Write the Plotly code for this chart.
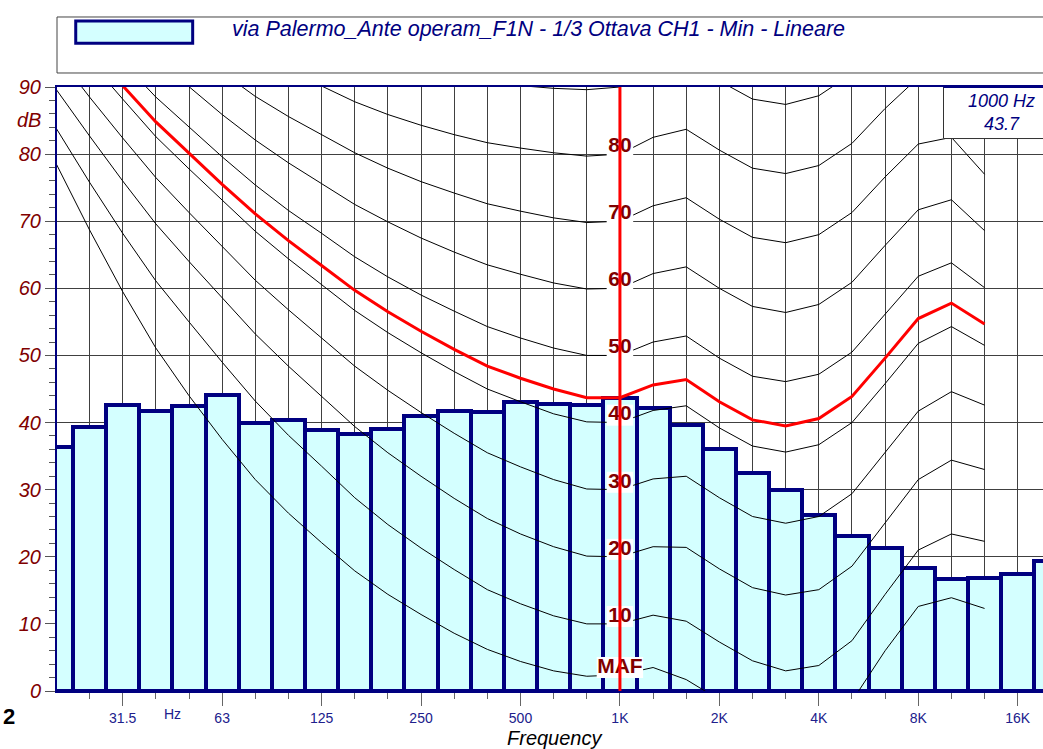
import plotly.graph_objects as go

# ---- data -------------------------------------------------------------
series_name = "via Palermo_Ante operam_F1N - 1/3 Ottava CH1 - Min - Lineare"

# 1/3-octave band centres (Hz)
bands = ["20", "25", "31.5", "40", "50", "63", "80", "100", "125", "160",
         "200", "250", "315", "400", "500", "630", "800", "1000", "1250", "1600",
         "2000", "2500", "3150", "4000", "5000", "6300", "8000", "10000", "12500",
         "16000", "20000"]

# measured minimum level per band (dB, linear weighting)
levels_db = [36.4, 39.4, 42.6, 41.7, 42.5, 44.1, 40.0, 40.4, 38.9, 38.3,
             39.0, 41.0, 41.7, 41.5, 43.1, 42.8, 42.6, 43.7, 42.1, 39.7,
             36.0, 32.5, 29.9, 26.2, 23.1, 21.3, 18.4, 16.7, 16.9, 17.5, 19.4]

# equal-loudness contours, 20 Hz .. 12.5 kHz (dB SPL)
maf = [78.5, 68.7, 59.5, 51.1, 44.0, 37.5, 31.5, 26.5, 22.1, 17.9, 14.4, 11.4, 8.6, 6.2,
       4.4, 3.0, 2.2, 2.4, 3.5, 1.7, -1.3, -4.2, -6.0, -5.4, -1.5, 6.0, 12.6, 13.9, 12.3]
phon10 = [83.8, 75.8, 68.2, 61.1, 55.0, 49.0, 43.2, 38.1, 33.5, 28.8, 24.8, 21.3, 18.1, 15.1,
          13.0, 11.2, 10.0, 10.0, 11.3, 10.4, 7.3, 4.5, 3.0, 3.8, 7.5, 14.4, 21.0, 23.4, 22.3]
phon20 = [89.6, 82.7, 76.0, 69.6, 64.0, 58.6, 53.2, 48.4, 43.9, 39.4, 35.5, 32.0, 28.7, 25.7,
          23.4, 21.5, 20.1, 20.0, 21.5, 21.4, 18.2, 15.4, 14.3, 15.1, 18.6, 25.0, 31.5, 34.4, 33.0]
phon30 = [94.9, 88.5, 82.4, 76.5, 71.3, 66.2, 61.2, 56.8, 52.6, 48.4, 44.8, 41.5, 38.4, 35.5,
          33.4, 31.5, 30.1, 30.0, 31.6, 32.0, 28.8, 26.0, 25.0, 26.0, 29.4, 35.5, 41.7, 44.6, 42.6]
phon40 = [99.9, 93.9, 88.2, 82.6, 77.8, 73.1, 68.5, 64.4, 60.6, 56.7, 53.4, 50.4, 47.6, 45.0,
          43.1, 41.3, 40.1, 40.0, 41.8, 42.5, 39.2, 36.5, 35.6, 36.7, 40.0, 45.8, 51.8, 54.3, 51.5]
phon50 = [104.7, 99.1, 93.7, 88.5, 84.0, 79.6, 75.4, 71.6, 68.2, 64.7, 61.7, 59.0, 56.6, 54.3,
          52.6, 51.1, 50.0, 50.0, 52.0, 52.9, 49.6, 46.9, 46.1, 47.2, 50.5, 56.1, 61.8, 63.8, 60.1]
phon60 = [109.5, 104.2, 99.1, 94.2, 90.0, 85.9, 82.1, 78.7, 75.6, 72.5, 69.9, 67.5, 65.4, 63.5,
          62.1, 60.8, 59.9, 60.0, 62.2, 63.2, 60.0, 57.3, 56.4, 57.6, 60.9, 66.4, 71.7, 73.2, 68.6]
phon70 = [114.3, 109.3, 104.4, 99.8, 95.9, 92.2, 88.6, 85.6, 82.9, 80.2, 77.9, 75.9, 74.2, 72.6,
          71.5, 70.5, 69.8, 70.0, 72.3, 73.5, 70.3, 67.6, 66.8, 68.0, 71.3, 76.6, 81.5, 82.5, 77.0]
phon80 = [119.0, 114.2, 109.7, 105.3, 101.7, 98.4, 95.2, 92.5, 90.1, 87.8, 85.9, 84.3, 82.9, 81.7,
          80.9, 80.2, 79.7, 80.0, 82.5, 83.7, 80.6, 77.9, 77.1, 78.3, 81.6, 86.8, 91.4, 91.7, 85.4]
phon90 = [123.7, 119.2, 114.9, 110.9, 107.6, 104.5, 101.7, 99.3, 97.3, 95.4, 93.9, 92.7, 91.6, 90.8,
          90.2, 89.8, 89.6, 90.0, 92.7, 94.0, 90.9, 88.2, 87.4, 88.7, 92.0, 97.0, 101.3, 101.0, 93.8]

contour_names = ["MAF", "10", "20", "30", "40", "50", "60", "70", "80", "90"]
contours = [maf, phon10, phon20, phon30, phon40, phon50, phon60, phon70, phon80, phon90]

# contour passing through the 1 kHz band level (43.7 phon)
ref_band = "1000"
ref_contour = [101.7, 95.9, 90.2, 84.8, 80.1, 75.5, 71.1, 67.1, 63.4, 59.7, 56.5, 53.6, 50.9, 48.4,
               46.6, 45.0, 43.7, 43.7, 45.6, 46.4, 43.1, 40.4, 39.5, 40.6, 43.9, 49.6, 55.5, 57.8, 54.7]

tick_bands = ["31.5", "63", "125", "250", "500", "1000", "2000", "4000", "8000", "16000"]
tick_text = ["31.5", "63", "125", "250", "500", "1K", "2K", "4K", "8K", "16K"]

# ---- styling ----------------------------------------------------------
FONT = "Liberation Sans, Arial, sans-serif"
NAVY = "#000080"
TICKBLUE = "#20208C"
MAROON = "#800000"
CYAN = "#D4FFFF"
GRID = "#404040"
Y_MAX = 90

x_band = list(range(len(bands)))
x_cont = x_band[:len(maf)]
i_ref = bands.index(ref_band)

fig = go.Figure()

fig.add_trace(go.Bar(
    x=x_band, y=levels_db, width=1, name=series_name,
    marker=dict(color=CYAN, line=dict(color=NAVY, width=4)),
    hoverinfo="skip"))

for vals in contours:
    fig.add_trace(go.Scatter(x=x_cont, y=vals, mode="lines",
                             line=dict(color="black", width=1), hoverinfo="skip"))

fig.add_trace(go.Scatter(x=x_cont, y=ref_contour, mode="lines",
                         line=dict(color="red", width=3), hoverinfo="skip"))

# contour labels on white boxes at 1 kHz
lab_names, lab_y, box_x, box_y = [], [], [], []
for name, vals in zip(contour_names, contours):
    level = vals[i_ref]
    if level >= Y_MAX:
        continue
    yc = level + 1.1
    half = 0.40 if name.isdigit() else 0.70
    lab_names.append(name)
    lab_y.append(yc)
    box_x += [i_ref - half, i_ref + half, None]
    box_y += [yc, yc, None]

fig.add_trace(go.Scatter(x=box_x, y=box_y, mode="lines",
                         line=dict(color="white", width=21), hoverinfo="skip"))
fig.add_trace(go.Scatter(x=[i_ref] * len(lab_names), y=lab_y, mode="text", text=lab_names,
                         textposition="middle center",
                         textfont=dict(family=FONT, size=21, color=MAROON, weight="bold"),
                         hoverinfo="skip"))

# 1 kHz marker line
fig.add_trace(go.Scatter(x=[i_ref, i_ref], y=[0, Y_MAX], mode="lines",
                         line=dict(color="red", width=3), hoverinfo="skip"))

fig.update_layout(
    width=1043, height=749,
    margin=dict(l=57, r=0, t=87, b=58),
    paper_bgcolor="white", plot_bgcolor="white",
    showlegend=False, bargap=0,
    font=dict(family=FONT),
    xaxis=dict(
        range=[0.018, 29.763], showline=True, linecolor=NAVY, linewidth=2, mirror=True,
        tickmode="array", tickvals=[bands.index(b) for b in tick_bands], ticktext=tick_text,
        ticks="outside", ticklen=13, tickcolor="#666666", tickwidth=1,
        tickfont=dict(family=FONT, size=14, color=TICKBLUE),
        showgrid=True, gridcolor=GRID, gridwidth=1, zeroline=False,
        minor=dict(tickmode="array", tickvals=x_band, ticks="outside", ticklen=6,
                   tickcolor="#666666", showgrid=True, gridcolor=GRID, gridwidth=1)),
    yaxis=dict(
        range=[0, Y_MAX], showline=True, linecolor=NAVY, linewidth=2,
        tickmode="array", tickvals=list(range(0, Y_MAX + 1, 10)),
        ticks="outside", ticklen=10, tickcolor="#555555",
        tickfont=dict(family=FONT, size=20, color=MAROON, style="italic"),
        showgrid=True, gridcolor=GRID, gridwidth=1, zeroline=False,
        minor=dict(dtick=2, ticks="outside", ticklen=6, tickcolor="#555555", showgrid=False)),
)

ref_level = levels_db[i_ref]

fig.update_layout(
    shapes=[
        # legend frame and swatch
        dict(type="rect", xref="paper", yref="paper", x0=0, x1=1.02, y0=1.0232, y1=1.1159,
             line=dict(color="#444444", width=1), fillcolor="rgba(0,0,0,0)"),
        dict(type="rect", xref="paper", yref="paper", x0=0.0190, x1=0.1376, y0=1.0724, y1=1.1093,
             line=dict(color=NAVY, width=3), fillcolor=CYAN),
        # value box
        dict(type="rect", xref="paper", yref="paper", x0=0.8991, x1=1.02, y0=0.9147, y1=1.0,
             line=dict(width=0), fillcolor="white", layer="above"),
        dict(type="line", xref="paper", yref="paper", x0=0.8991, x1=0.8991, y0=0.9147, y1=1.0,
             line=dict(color="#333333", width=1), layer="above"),
        dict(type="line", xref="paper", yref="paper", x0=0.8991, x1=1.02, y0=0.9147, y1=0.9147,
             line=dict(color="#333333", width=1), layer="above"),
        dict(type="line", xref="paper", yref="paper", x0=0.8991, x1=1.02, y0=1.0, y1=1.0,
             line=dict(color=NAVY, width=2), layer="above"),
    ],
    annotations=[
        dict(text=series_name, xref="paper", yref="paper", x=0.1755, y=1.096,
             xanchor="left", yanchor="middle", showarrow=False,
             font=dict(family=FONT, size=21.5, color=NAVY, style="italic")),
        dict(text=f"{ref_band} Hz<br>{ref_level}", xref="paper", yref="paper", x=0.9584, y=0.957,
             xanchor="center", yanchor="middle", showarrow=False, align="center",
             font=dict(family=FONT, size=18, color=NAVY, style="italic")),
        dict(text="dB", xref="paper", yref="paper", x=-0.0142, y=0.9454,
             xanchor="right", yanchor="middle", showarrow=False,
             font=dict(family=FONT, size=20, color=MAROON, style="italic")),
        dict(text="Hz", xref="x", yref="paper", x=3.5, y=0, yshift=-23,
             xanchor="center", yanchor="middle", showarrow=False,
             font=dict(family=FONT, size=14, color=TICKBLUE)),
        dict(text="Frequency", xref="paper", yref="paper", x=0.505, y=-0.0778,
             xanchor="center", yanchor="middle", showarrow=False,
             font=dict(family=FONT, size=20, color="black", style="italic")),
        dict(text="2", xref="paper", yref="paper", x=-0.0568, y=-0.043,
             xanchor="left", yanchor="middle", showarrow=False,
             font=dict(family=FONT, size=22, color="black", weight="bold")),
    ],
)

fig.write_html("out.html")
